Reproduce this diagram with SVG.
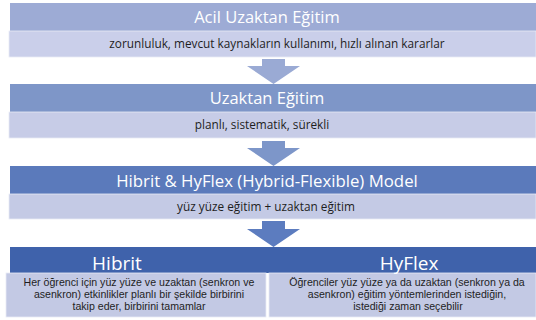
<svg xmlns="http://www.w3.org/2000/svg" width="536" height="320" viewBox="0 0 536 320">
<style>
.title{font-family:"Open Sans","Liberation Sans",sans-serif;fill:#ffffff;text-anchor:middle}
.sub{font-family:"Open Sans","Liberation Sans",sans-serif;fill:#1e1e1e;text-anchor:middle}
.desc{font-family:"Liberation Sans","Open Sans",sans-serif;fill:#1e1e1e;text-anchor:middle;font-size:10.6px}
.band{stroke:#e9ecf6;stroke-width:0.8}
</style>
<rect width="536" height="320" fill="#ffffff"/>
<g id="acil">
<rect x="10" y="3" width="526" height="28" fill="#9dabd5"/>
<rect class="band" x="9" y="31" width="527" height="26" fill="#cacfea"/>
<text class="title" x="267" y="22.5" font-size="16.5">Acil Uzaktan Eğitim</text>
<text class="sub" x="277" y="48" font-size="11.8">zorunluluk,  mevcut kaynakların kullanımı, hızlı alınan kararlar</text>
</g>
<g id="uzaktan">
<rect x="10" y="84" width="526" height="28" fill="#7e96c8"/>
<rect class="band" x="9" y="112" width="527" height="26" fill="#c7cce7"/>
<text class="title" x="267" y="104" font-size="16.5">Uzaktan Eğitim</text>
<text class="sub" x="262" y="128.5" font-size="11.8">planlı, sistematik, sürekli</text>
</g>
<g id="hibrit-hyflex">
<rect x="10" y="166" width="526" height="28" fill="#5b7abb"/>
<rect class="band" x="9" y="194" width="527" height="25" fill="#c4cae5"/>
<text class="title" x="267" y="186.5" font-size="16.8">Hibrit &amp; HyFlex (Hybrid-Flexible)  Model</text>
<text class="sub" x="266" y="211" font-size="11.8">yüz yüze eğitim + uzaktan eğitim</text>
</g>
<g id="bottom">
<rect x="10" y="247" width="526" height="26" fill="#3f62ab"/>
</g>
<g id="hibrit">
<rect class="band" x="6" y="273" width="260" height="44" fill="#c3c9e4"/>
<text class="title" x="117" y="270" font-size="19">Hibrit</text>
<text class="desc" x="139" y="286">Her öğrenci için yüz yüze  ve  uzaktan (senkron ve</text>
<text class="desc" x="139" y="298">asenkron) etkinlikler planlı bir şekilde birbirini</text>
<text class="desc" x="139" y="310">takip eder,  birbirini tamamlar</text>
</g>
<g id="hyflex">
<rect class="band" x="269" y="273" width="267" height="44" fill="#c3c9e4"/>
<text class="title" x="409" y="270" font-size="19">HyFlex</text>
<text class="desc" x="407" y="286">Öğrenciler yüz yüze ya da uzaktan (senkron ya da</text>
<text class="desc" x="407" y="298">asenkron) eğitim yöntemlerinden  istediğin,</text>
<text class="desc" x="408" y="310">istediği zaman seçebilir</text>
</g>
<g id="connectors">
<path d="M262 59 H285 V66 H300 L273.5 84 L247 66 H262 Z" fill="#9aaad4"/>
<path d="M262 141 H285 V148 H300 L273.5 166 L247 148 H262 Z" fill="#7d96c9"/>
<path d="M262 221 H285 V229 H300 L273.5 247 L247 229 H262 Z" fill="#5c7cbf"/>
</g>
</svg>
